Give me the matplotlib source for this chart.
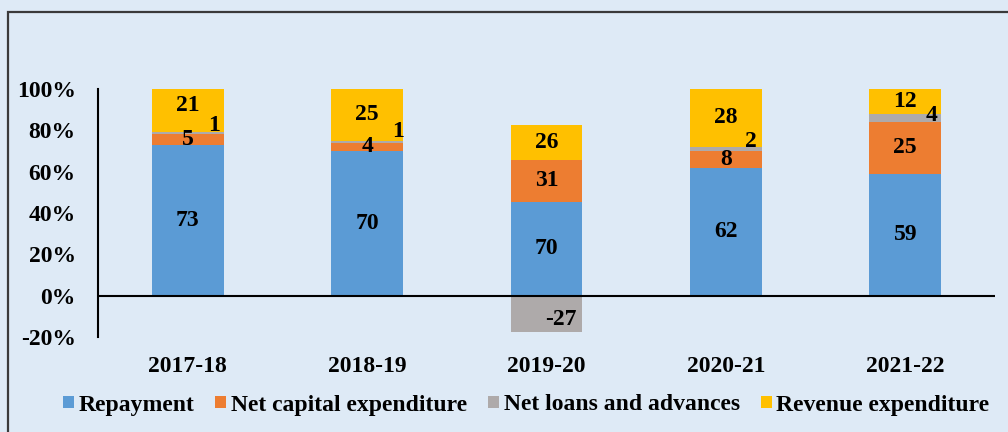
import matplotlib
matplotlib.use("Agg")
import matplotlib.pyplot as plt
import numpy as np
from matplotlib.patches import Rectangle

years = ["2017-18", "2018-19", "2019-20", "2020-21", "2021-22"]
repayment = [73, 70, 70, 62, 59]
net_capital = [5, 4, 31, 8, 25]
net_loans = [1, 1, -27, 2, 4]
revenue = [21, 25, 26, 28, 12]
series_names = ["Repayment", "Net capital expenditure", "Net loans and advances", "Revenue expenditure"]
colors = ["#5B9BD5", "#ED7D31", "#AEAAAA", "#FFC000"]

# label offsets in points (dx, dy) per series per year
offsets = {
    2: [(19, 6), (22, 7), (10, -4), (18, 5), (19, 2)],
    3: [(0, 4), (0, 0), (0, 0), (0, 0), (0, 0)],
}

plt.rcParams['font.family'] = ['Liberation Serif', 'DejaVu Serif']
bg = "#DEEAF6"
fig = plt.figure(figsize=(10.08, 4.32), dpi=100, facecolor=bg)
ax = fig.add_axes([98/1008, 1-337/432, (995-98)/1008, (337-89)/432])
ax.set_facecolor(bg)

data = np.array([repayment, net_capital, net_loans, revenue], dtype=float)
abs_tot = np.abs(data).sum(axis=0)
frac = data / abs_tot

x = np.arange(len(years))
pos_base = np.zeros(len(years))
neg_base = np.zeros(len(years))
width = 0.4
for i, name in enumerate(series_names):
    vals = frac[i]
    bottoms = np.where(vals >= 0, pos_base, neg_base)
    ax.bar(x, vals, width, bottom=bottoms, color=colors[i], label=name, zorder=2)
    for j in range(len(years)):
        cy = bottoms[j] + vals[j] / 2
        dx, dy = (0, 0)
        if i in offsets:
            dx, dy = offsets[i][j]
        ax.annotate(f"{int(data[i, j])}", (x[j], cy), xytext=(dx, dy), textcoords="offset points",
                    ha="center", va="center", fontsize=17, fontweight="bold", color="black", zorder=4)
    pos_base = pos_base + np.where(vals >= 0, vals, 0)
    neg_base = neg_base + np.where(vals < 0, vals, 0)

ax.set_xlim(-0.5, 4.5)
ax.set_ylim(-0.2, 1.0)
ax.set_yticks(np.arange(-0.2, 1.01, 0.2))
ax.set_yticklabels([f"{int(round(v*100))}%" for v in np.arange(-0.2, 1.01, 0.2)])
ax.set_xticks(x)
ax.set_xticklabels(years)
ax.tick_params(axis="both", length=0, labelsize=17)
ax.tick_params(axis="x", pad=14)
ax.tick_params(axis="y", pad=16)
for lab in ax.get_xticklabels() + ax.get_yticklabels():
    lab.set_fontweight("bold")
for s in ["top", "right", "bottom"]:
    ax.spines[s].set_visible(False)
ax.spines["left"].set_linewidth(1.5)
ax.spines["left"].set_color("black")
ax.axhline(0, color="black", linewidth=1.5, zorder=3)

leg = fig.legend(loc="center", bbox_to_anchor=(0.522, 1-405/432), ncol=4, frameon=False,
                 prop={"weight": "bold", "size": 17}, handlelength=0.45, handleheight=0.45,
                 handletextpad=0.2, columnspacing=0.9)

fig.patches.append(Rectangle((8/1008, -0.1), 1.2, 1 - 12/432 + 0.1, transform=fig.transFigure,
                             fill=False, edgecolor="#3a3a3a", linewidth=1.6))

fig.savefig("out.png", dpi=100, facecolor=bg)
